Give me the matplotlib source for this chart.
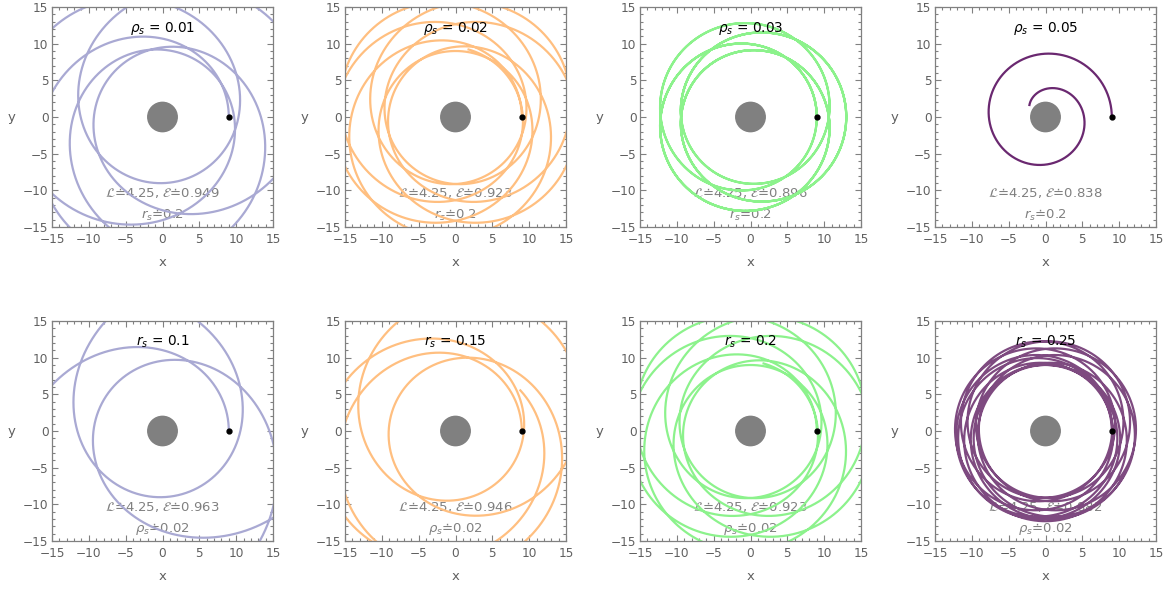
import numpy as np
import matplotlib
matplotlib.use("Agg")
import matplotlib.pyplot as plt
from matplotlib.patches import Circle
from matplotlib.ticker import MultipleLocator

# ─── Data ────────────────────────────────────────────────────────────────────

L_VAL = 4.25
R_START = 9.0          # every orbit starts at (9, 0), moving counter-clockwise

top_rho = [0.01, 0.02, 0.03, 0.05]
top_E = [0.949, 0.923, 0.896, 0.838]
top_fixed_rs = 0.2

bottom_rs = [0.1, 0.15, 0.2, 0.25]
bottom_E = [0.963, 0.946, 0.923, 0.882]
bottom_fixed_rho = 0.02

# bound orbits: apoapsis radius, precession per radial period (deg), total swept angle (deg)
top_apo = [20.0, 16.5, 13.0, None]
top_prec = [140, 150, 120, None]
top_sweep = [1740, 2600, 3780, None]

bottom_apo = [25.0, 19.0, 16.5, 12.3]
bottom_prec = [140, 160, 150, 100]
bottom_sweep = [1200, 1473, 2600, 3935]

# plunging orbit (rho_s = 0.05): swept angle (deg) vs radius, read along the spiral
plunge_phi_read = [0, 90, 176, 262, 327, 350, 386, 427, 480, 506]
plunge_r_read = [9.0, 8.76, 7.7, 6.45, 5.63, 5.28, 5.23, 4.12, 3.22, 2.66]

top_colors = ["#A9A9D3", "#FFBF80", "#8CF28C", "#6A2870"]
bottom_colors = ["#A9A9D3", "#FFBF80", "#8CF28C", "#7E4A80"]

BH_RADIUS = 2.0

# ─── Orbit curves ────────────────────────────────────────────────────────────

def bound_orbit(r_apo, prec, sweep):
    """Precessing conic starting at periapsis R_START."""
    phi = np.radians(np.linspace(0, sweep, 6000))
    k = 360.0 / (360.0 + prec)
    e = (r_apo - R_START) / (r_apo + R_START)
    p = R_START * (1 + e)
    r = p / (1 + e * np.cos(k * phi))
    return r * np.cos(phi), r * np.sin(phi)


def plunge_phi(s, u0, uc, eps, n):
    # (du/dphi)^2 = K (u-u0) ((u-uc)^2 + eps^2) (u/u0)^n, with u = u0 + s^2
    u = u0 + s ** 2
    g = 2.0 / np.sqrt(((u - uc) ** 2 + eps ** 2) * (u / u0) ** n)
    return u, np.concatenate([[0], np.cumsum(0.5 * (g[1:] + g[:-1]) * np.diff(s))])


def plunge_orbit(phi_read, r_read):
    u0 = 1.0 / r_read[0]
    u_read = 1.0 / np.array(r_read)
    phi_read = np.radians(phi_read)
    s = np.linspace(0, np.sqrt(u_read[-1] - u0), 3000)
    best = None
    # fit the whirl radius / sharpness of the spiral to the read points
    for n in [0, 1, 2, 3]:
        for uc in np.linspace(0.14, 0.32, 37):
            for eps in np.linspace(0.002, 0.09, 45):
                u, phi = plunge_phi(s, u0, uc, eps, n)
                phi = phi * phi_read[-1] / phi[-1]
                err = np.sum((np.interp(u_read, u, phi) - phi_read) ** 2)
                if best is None or err < best[0]:
                    best = (err, uc, eps, n)
    _, uc, eps, n = best
    u, phi = plunge_phi(s, u0, uc, eps, n)
    phi = phi * phi_read[-1] / phi[-1]
    r = 1.0 / u
    return r * np.cos(phi), r * np.sin(phi)


# ─── Figure ──────────────────────────────────────────────────────────────────

fig = plt.figure(figsize=(11.7, 5.9), dpi=100)

lefts = [52, 345, 640, 935]
W, H = 1170.0, 590.0
row_bottoms = [227, 541]

GRAY = "#808080"
TXT = "#606060"


def style_axes(ax):
    ax.set_xlim(-15, 15)
    ax.set_ylim(-15, 15)
    ax.xaxis.set_major_locator(MultipleLocator(5))
    ax.yaxis.set_major_locator(MultipleLocator(5))
    ax.xaxis.set_minor_locator(MultipleLocator(1))
    ax.yaxis.set_minor_locator(MultipleLocator(1))
    ax.tick_params(which="both", direction="in", top=True, right=True,
                   color=GRAY, labelcolor=TXT, labelsize=8.7, width=0.8)
    ax.tick_params(which="major", length=4)
    ax.tick_params(which="minor", length=2)
    ax.tick_params(axis="x", which="major", pad=4.2)
    ax.tick_params(axis="y", which="major", pad=2.5)
    for sp in ax.spines.values():
        sp.set_color(GRAY)
        sp.set_linewidth(0.9)
    ax.set_xlabel("x", color=TXT, fontsize=9.5, labelpad=7)
    ax.set_ylabel("y", color=TXT, fontsize=9.5, rotation=0, labelpad=8, va="center")


for row in range(2):
    for col in range(4):
        ax = fig.add_axes([lefts[col] / W, (H - row_bottoms[row]) / H, 221 / W, 220 / H])
        style_axes(ax)

        if row == 0:
            color = top_colors[col]
            if top_apo[col] is None:
                x, y = plunge_orbit(plunge_phi_read, plunge_r_read)
            else:
                x, y = bound_orbit(top_apo[col], top_prec[col], top_sweep[col])
            title = r"$\rho_s$ = %g" % top_rho[col]
            line1 = r"$\mathcal{L}$≐%g, $\mathcal{E}$≐%g" % (L_VAL, top_E[col])
            line2 = r"$r_s$≐%g" % top_fixed_rs
        else:
            color = bottom_colors[col]
            x, y = bound_orbit(bottom_apo[col], bottom_prec[col], bottom_sweep[col])
            title = r"$r_s$ = %g" % bottom_rs[col]
            line1 = r"$\mathcal{L}$≐%g, $\mathcal{E}$≐%g" % (L_VAL, bottom_E[col])
            line2 = r"$\rho_s$≐%g" % bottom_fixed_rho

        ax.text(0, -10.4, line1, color=GRAY, fontsize=9.5, ha="center", va="center", zorder=1)
        ax.text(0, -13.4, line2, color=GRAY, fontsize=9.5, ha="center", va="center", zorder=1)
        ax.plot(x, y, color=color, lw=1.6, zorder=2, solid_capstyle="butt")
        ax.add_patch(Circle((0, 0), BH_RADIUS, color=GRAY, zorder=3))
        ax.plot([R_START], [0], "o", color="black", ms=3.5, zorder=4)
        ax.text(0, 12.1, title, color="black", fontsize=9.8, ha="center", va="center", zorder=5)

fig.savefig("out.png", dpi=100)
